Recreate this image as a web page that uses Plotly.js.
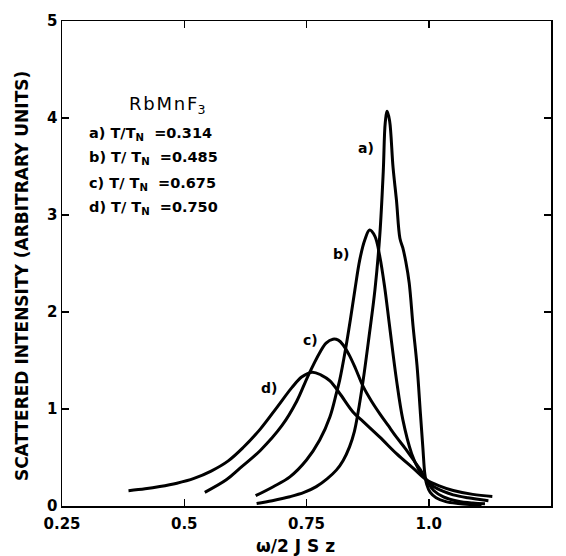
<!DOCTYPE html>
<html>
<head>
<meta charset="utf-8">
<script src="https://cdn.plot.ly/plotly-3.0.1.min.js"></script>
<style>html,body{margin:0;padding:0;background:#fff;}#chart{width:566px;height:556px;}</style>
</head>
<body>
<div id="chart"></div>
<script>
// Curve a) T/TN = 0.314
const xA = [0.648, 0.68, 0.716, 0.745, 0.770, 0.792, 0.811, 0.825, 0.838, 0.848, 0.855, 0.866, 0.878, 0.89, 0.90, 0.907, 0.911, 0.915, 0.92, 0.927, 0.934, 0.941, 0.947, 0.953, 0.96, 0.968, 0.976, 0.983, 0.988, 0.992, 0.996, 1.003, 1.015, 1.035, 1.06, 1.085, 1.108];
const yA = [0.025, 0.055, 0.096, 0.14, 0.20, 0.28, 0.37, 0.47, 0.61, 0.77, 0.95, 1.30, 1.75, 2.23, 2.80, 3.45, 3.95, 4.07, 3.97, 3.49, 3.15, 2.76, 2.66, 2.52, 2.30, 1.85, 1.45, 0.95, 0.60, 0.33, 0.22, 0.14, 0.085, 0.045, 0.025, 0.015, 0.01];
// Curve b) T/TN = 0.485
const xB = [0.646, 0.682, 0.716, 0.75, 0.777, 0.798, 0.811, 0.818, 0.83, 0.84, 0.849, 0.859, 0.869, 0.879, 0.89, 0.90, 0.91, 0.92, 0.934, 0.947, 0.965, 0.98, 0.995, 1.01, 1.03, 1.06, 1.09, 1.115];
const yB = [0.106, 0.199, 0.30, 0.474, 0.68, 0.92, 1.16, 1.30, 1.62, 1.93, 2.23, 2.54, 2.74, 2.845, 2.78, 2.57, 2.25, 1.85, 1.30, 0.89, 0.54, 0.37, 0.27, 0.16, 0.095, 0.05, 0.03, 0.022];
// Curve c) T/TN = 0.675
const xC = [0.542, 0.586, 0.614, 0.655, 0.70, 0.73, 0.753, 0.777, 0.79, 0.804, 0.815, 0.825, 0.838, 0.85, 0.866, 0.883, 0.90, 0.917, 0.934, 0.951, 0.968, 0.982, 0.995, 1.01, 1.03, 1.05, 1.08, 1.122];
const yC = [0.141, 0.27, 0.39, 0.57, 0.83, 1.08, 1.34, 1.58, 1.68, 1.72, 1.71, 1.66, 1.55, 1.42, 1.23, 1.08, 0.95, 0.83, 0.71, 0.60, 0.48, 0.38, 0.27, 0.20, 0.15, 0.115, 0.085, 0.055];
// Curve d) T/TN = 0.750
const xD = [0.386, 0.42, 0.45, 0.485, 0.52, 0.555, 0.59, 0.62, 0.655, 0.69, 0.72, 0.74, 0.762, 0.78, 0.798, 0.818, 0.845, 0.866, 0.90, 0.934, 0.968, 0.995, 1.02, 1.05, 1.09, 1.13];
const yD = [0.158, 0.177, 0.20, 0.235, 0.285, 0.36, 0.465, 0.60, 0.79, 1.02, 1.22, 1.33, 1.38, 1.35, 1.29, 1.16, 0.97, 0.87, 0.71, 0.54, 0.39, 0.27, 0.21, 0.16, 0.12, 0.098];

const xTickVals = [0.25, 0.5, 0.75, 1.0, 1.25];
const xTickText = ['0.25', '0.5', '0.75', '1.0', '1.25'];
const yTickVals = [0, 1, 2, 3, 4, 5];
const yTickText = ['0', '1', '2', '3', '4', '5'];

const curveLabels = ['a)', 'b)', 'c)', 'd)'];
const ratioValues = ['0.314', '0.485', '0.675', '0.750'];

const FONT = 'DejaVu Sans, sans-serif';
const line = {color: '#000', width: 3, shape: 'spline', smoothing: 1};
const mk = (x, y, name) => ({x: x, y: y, name: name, type: 'scatter', mode: 'lines', line: line, hoverinfo: 'skip'});

const data = [mk(xA, yA, 'a'), mk(xB, yB, 'b'), mk(xC, yC, 'c'), mk(xD, yD, 'd')];

const nb = '\u00A0';
const hs = '\u200A';
const labelPos = [[0.871, 3.69], [0.820, 2.60], [0.759, 1.71], [0.673, 1.22]];
const annotations = [];
curveLabels.forEach((lab, i) => {
  annotations.push({x: labelPos[i][0], y: labelPos[i][1], xref: 'x', yref: 'y', text: lab, showarrow: false,
    font: {family: FONT, size: 14, color: '#000', weight: 'bold'}});
});
annotations.push({x: 0.465, y: 4.13, xref: 'x', yref: 'y', text: 'R' + hs + 'b' + hs + 'M' + hs + 'n' + hs + 'F<sub>3</sub>', showarrow: false,
  font: {family: FONT, size: 18, color: '#000'}});
const legY = [3.835, 3.59, 3.32, 3.07];
const slashGap = ['', nb, nb, nb];
curveLabels.forEach((lab, i) => {
  annotations.push({x: 0.301, y: legY[i], xref: 'x', yref: 'y', xanchor: 'left', showarrow: false,
    text: lab + nb + 'T/' + slashGap[i] + 'T<sub>N</sub>' + nb + nb + '=' + ratioValues[i],
    font: {family: FONT, size: 14.5, color: '#000', weight: 'bold'}});
});
// axis titles placed as annotations for exact positioning
annotations.push({x: -0.0818, y: 0.474, xref: 'paper', yref: 'paper', xanchor: 'center', yanchor: 'middle',
  textangle: -90, showarrow: false,
  text: 'SCATTERED INTENSITY (ARBITRARY UNITS)',
  font: {family: FONT, size: 17, color: '#000', weight: 'bold'}});
annotations.push({x: 0.4765, y: -0.082, xref: 'paper', yref: 'paper', xanchor: 'center', yanchor: 'middle',
  showarrow: false,
  text: 'ω/2 J S z',
  font: {family: FONT, size: 17, color: '#000', weight: 'bold'}});

const axisCommon = {
  showline: true, linecolor: '#000', linewidth: 1.5, mirror: 'ticks',
  ticks: 'inside', ticklen: 7, tickwidth: 1.5, tickcolor: '#000',
  showgrid: false, zeroline: false, automargin: false,
  tickfont: {family: FONT, size: 15, color: '#000', weight: 'bold'}
};

const layout = {
  width: 566, height: 556,
  margin: {l: 62, r: 15, t: 21, b: 50},
  paper_bgcolor: '#fff', plot_bgcolor: '#fff',
  showlegend: false,
  xaxis: Object.assign({}, axisCommon, {
    range: [0.25, 1.25], tickvals: xTickVals, ticktext: xTickText, ticklabelstandoff: 3
  }),
  yaxis: Object.assign({}, axisCommon, {
    range: [0, 5], tickvals: yTickVals, ticktext: yTickText
  }),
  annotations: annotations
};

Plotly.newPlot('chart', data, layout, {staticPlot: true});
</script>
</body>
</html>
